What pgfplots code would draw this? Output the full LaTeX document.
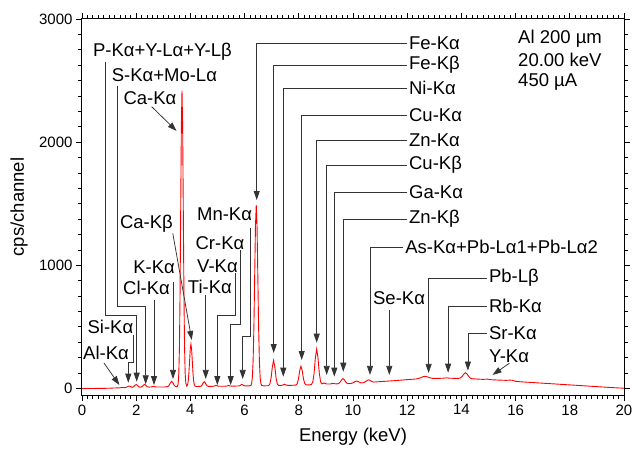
\documentclass[border=0pt]{standalone}
\usepackage{fontspec}
\setmainfont{Liberation Sans}
\usepackage{pgfplots}
\pgfplotsset{compat=1.18}
\usetikzlibrary{arrows.meta}
\begin{document}
\begin{tikzpicture}[font=\fontsize{18.5}{22}\selectfont,
  arr/.style={draw=black!80, line width=0.75pt, -{Triangle[length=9pt,width=6pt]}},
  lab/.style={inner sep=0pt, anchor=center},
  rlab/.style={inner sep=2pt, anchor=west}]
\useasboundingbox (-82pt,-53pt) rectangle (553pt,395pt);
\begin{axis}[
  scale only axis, width=542pt, height=376pt,
  xmin=0, xmax=20, ymin=-53, ymax=3000,
  xtick={0,2,...,20}, ytick={0,1000,2000,3000},
  minor x tick num=9, minor y tick num=7,
  tick align=outside, xtick pos=both, ytick pos=both,
  major tick length=6pt, minor tick length=3.5pt,
  every tick/.style={black, line width=0.8pt},
  axis line style={line width=1pt},
  /pgf/number format/assume math mode=true,
  /pgf/number format/1000 sep={},
  tick label style={font=\fontsize{15}{18}\selectfont},
  xlabel={Energy (keV)}, ylabel={cps/channel},
  xlabel style={at={(axis description cs:0.5,-0.1117)}, anchor=center},
  ylabel style={at={(axis description cs:-0.1162,0.5)}, anchor=center},
  clip=false,
]
\addplot[red, line width=0.9pt] coordinates {
(0,0) (0.2,0) (0.4,0) (0.6,0.5) (0.8,1) (1.0,2) (1.2,4) (1.3,4.5) (1.4,5.5) (1.49,8) (1.58,7)
(1.62,9) (1.66,12) (1.70,17) (1.74,20) (1.78,17) (1.82,12) (1.86,9)
(1.88,11.8) (1.92,17.2) (1.96,26.6) (2.0,32) (2.04,26.6) (2.08,17.2) (2.12,11.8) (2.17,10.5)
(2.19,12.8) (2.23,18.2) (2.27,27.6) (2.31,33) (2.35,27.6) (2.39,18.2) (2.43,12.8) (2.48,11.2)
(2.54,12) (2.58,13.5) (2.62,17) (2.66,15.5) (2.70,13) (2.75,12)
(2.9,12) (3.1,12.5)
(3.175,16.6) (3.22,27.6) (3.265,47) (3.31,58) (3.355,47) (3.40,27.6) (3.445,16.6) (3.49,14)
(3.5255,19) (3.549,41) (3.5725,120) (3.596,339) (3.6195,795) (3.643,1473) (3.6665,2136) (3.69,2419) (3.7135,2136) (3.737,1473) (3.7605,795) (3.784,339) (3.8075,120) (3.831,41) (3.87,19)
(3.895,29) (3.92,61) (3.945,126) (3.97,223) (3.995,319) (4.02,360) (4.045,319) (4.07,223) (4.095,126) (4.12,61) (4.145,29) (4.17,19) (4.22,16)
(4.36,17.4) (4.3975,20) (4.435,29.4) (4.4725,45.7) (4.51,55) (4.5475,45.7) (4.585,29.4) (4.6225,20) (4.66,17.4)
(4.8,17.5) (4.88,19) (4.95,26) (5.02,19) (5.1,18)
(5.3,18.5) (5.37,21) (5.41,25) (5.45,21) (5.52,19)
(5.75,20) (5.82,22) (5.86,28) (5.9,34) (5.94,28) (5.98,22) (6.05,21)
(6.14,20.5) (6.227,24) (6.256,37) (6.285,86) (6.314,220) (6.343,498) (6.372,913) (6.401,1318) (6.43,1491) (6.459,1318) (6.488,913) (6.517,498) (6.546,220) (6.575,86) (6.604,37) (6.633,24) (6.7,21.5)
(6.85,22) (6.89,24.3) (6.935,38) (6.98,89) (7.025,177) (7.07,227) (7.115,177) (7.16,89) (7.205,38) (7.25,24.5)
(7.35,24) (7.42,29) (7.47,34) (7.52,29) (7.6,25)
(7.8,26) (7.894,27.8) (7.9405,39) (7.987,76) (8.0335,143) (8.08,181) (8.1265,144) (8.173,77) (8.2195,40) (8.266,29.5) (8.33,29)
(8.42,30) (8.468,33) (8.516,53) (8.564,124) (8.612,249) (8.66,320) (8.708,250) (8.756,125) (8.804,55) (8.852,37)
(8.93,45) (8.98,40) (9.05,36)
(9.15,36) (9.25,41) (9.35,38)
(9.42,37.5) (9.4725,41) (9.525,52) (9.5775,70) (9.63,80) (9.6825,70) (9.735,52) (9.7875,41) (9.84,39)
(9.95,42) (10.03,49) (10.08,57) (10.13,60) (10.18,57) (10.23,51) (10.31,45)
(10.39,47) (10.47,57) (10.52,65) (10.57,70) (10.62,67) (10.67,59) (10.75,52)
(10.9,54) (11.1,57) (11.3,60) (11.5,63) (11.8,68) (12.0,72) (12.2,75)
(12.35,78) (12.45,83) (12.55,93) (12.65,99) (12.75,94) (12.85,86) (12.95,82)
(13.1,82) (13.3,83) (13.45,86) (13.6,83) (13.8,82) (13.895,82)
(13.96,85) (14.0225,96) (14.086,116) (14.15,128) (14.214,116) (14.2775,96) (14.34,83) (14.405,79)
(14.6,76) (14.8,74) (14.96,76) (15.1,71) (15.3,69) (15.5,67) (15.65,66) (15.8,68) (15.9,66) (16.0,58) (16.2,54) (16.5,50) (17,43) (17.5,36) (18,29) (18.5,22) (19,15) (19.5,8) (20,2)
};
% left-side annotations
\draw[arr] (0.81,207) -- (1.38,28);
\node[lab] at (0.886,288) {Al-K$\mathrm{}$α};
\draw[arr] (1.893,434) |- (1.708,209) -- (1.708,47);
\node[lab] at (1.05,499) {Si-Kα};
\draw[arr] (0.849,2651) |- (2.018,597) -- (2.018,55);
\node[lab] at (2.97,2732) {P-Kα+Y-Lα+Y-Lβ};
\draw[arr] (1.303,2456) |- (2.35,670) -- (2.35,34);
\node[lab] at (3.04,2545) {S-Kα+Mo-Lα};
\draw[arr] (2.57,2288) -- (3.49,2091);
\node[lab] at (2.51,2358) {Ca-Kα};
\draw[arr] (3.35,1260) -- (4.05,394);
\node[lab] at (2.38,1336) {Ca-Kβ};
\draw[arr] (2.657,719) -- (2.657,28);
\node[lab] at (2.38,816) {Cl-Kα};
\draw[arr] (3.358,865) -- (3.358,77);
\node[lab] at (2.66,986) {K-Kα};
\draw[arr] (4.565,759) -- (4.565,77);
\node[lab] at (4.72,824) {Ti-Kα};
\draw[arr] (5.646,935) |- (4.993,597) -- (4.993,28);
\node[lab] at (5.0,995) {V-Kα};
\draw[arr] (5.856,1124) |- (5.487,524) -- (5.487,28);
\node[lab] at (5.09,1181) {Cr-Kα};
\draw[arr] (6.225,1303) |- (5.93,426) -- (5.93,77);
\node[lab] at (5.26,1416) {Mn-Kα};
% right-side annotations
\draw[arr] (11.99,2805) -| (6.447,1530);
\node[rlab] at (11.99,2805) {Fe-Kα};
\draw[arr] (11.99,2626) -| (7.074,288);
\node[rlab] at (11.99,2626) {Fe-Kβ};
\draw[arr] (11.99,2440) -| (7.428,96);
\node[rlab] at (11.99,2440) {Ni-Kα};
\draw[arr] (11.99,2220) -| (8.107,231);
\node[rlab] at (11.99,2220) {Cu-Kα};
\draw[arr] (11.99,2018) -| (8.66,372);
\node[rlab] at (11.99,2018) {Zn-Kα};
\draw[arr] (11.99,1815) -| (9.03,110);
\node[rlab] at (11.99,1815) {Cu-Kβ};
\draw[arr] (11.99,1595) -| (9.31,96);
\node[rlab] at (11.99,1595) {Ga-Kα};
\draw[arr] (11.99,1376) -| (9.642,136);
\node[rlab] at (11.99,1376) {Zn-Kβ};
\draw[arr] (11.85,1149) -| (10.627,110);
\node[rlab] at (11.85,1149) {As-Kα+Pb-Lα1+Pb-Lα2};
\draw[arr] (11.34,637) -- (11.34,110);
\node[lab] at (11.70,735) {Se-Kα};
\draw[arr] (14.94,897) -| (12.79,126);
\node[rlab] at (14.94,897) {Pb-Lβ};
\draw[arr] (14.94,670) -| (13.51,128);
\node[rlab] at (14.94,670) {Rb-Kα};
\draw[arr] (14.94,451) -| (14.24,145);
\node[rlab] at (14.94,451) {Sr-Kα};
\draw[arr] (15.77,205) -- (15.15,110);
\node[lab] at (15.76,264) {Y-Kα};
% conditions
\node[inner sep=0pt, anchor=west] at (16.09,2838) {Al 200 µm};
\node[inner sep=0pt, anchor=west] at (16.09,2667) {20.00 keV};
\node[inner sep=0pt, anchor=west] at (16.09,2489) {450 µA};
\end{axis}
\end{tikzpicture}
\end{document}
